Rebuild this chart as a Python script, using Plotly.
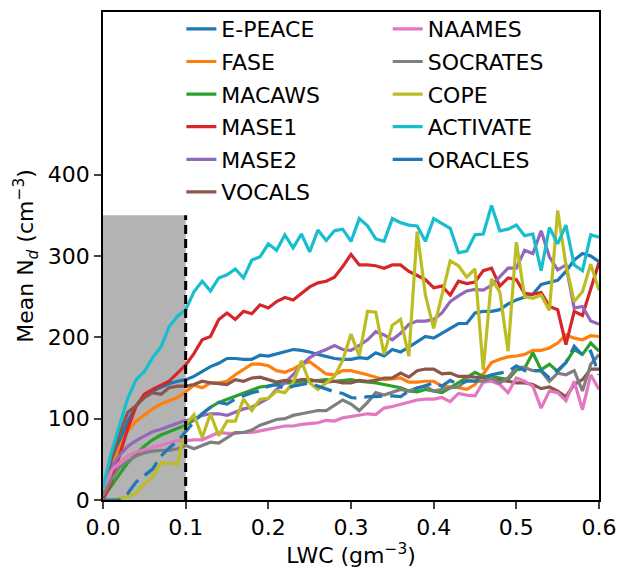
import plotly.graph_objects as go

LWC = [round(i * 0.01, 2) for i in range(61)]

E_PEACE = [0, 45, 72, 97, 116, 128, 134, 139, 143, 146, 148, 152, 158, 164, 168, 174, 174, 173, 173, 178,
           177, 180, 182, 185, 184, 182, 179, 176, 174, 173, 173, 175, 174, 181, 177, 185, 182, 188, 194, 201,
           199, 205, 211, 217, 217, 230, 232, 232, 234, 241, 246, 249, 253, 265, 268, 270, 281, 295, 303, 300, 293]
FASE = [5, 38, 65, 85, 97, 105, 112, 118, 122, 126, 133, 141, 138, 144, 144, 146, 154, 160, 167, 167,
        165, 159, 157, 161, 167, 170, 163, 155, 154, 159, 159, 157, 154, 151, 148, 149, 150, 145, 145, 146,
        146, 140, 139, 138, 136, 142, 155, 169, 173, 176, 177, 179, 184, 184, 187, 193, 203, 199, 197, 202, 201]
MACAWS = [3, 17, 32, 46, 56, 66, 74, 80, 84, 88, 92, 98, 106, 114, 120, 124, 128, 132, 136, 139,
          140, 142, 144, 144, 146, 146, 147, 148, 146, 147, 148, 146, 145, 144, 142, 140, 138, 134, 133, 136,
          134, 132, 138, 144, 150, 157, 152, 152, 150, 148, 160, 162, 181, 160, 167, 158, 169, 185, 179, 193, 183]
MASE1 = [0, 22, 55, 88, 115, 130, 136, 141, 146, 156, 166, 180, 197, 201, 222, 230, 222, 232, 229, 240,
         236, 244, 249, 246, 254, 262, 267, 269, 274, 287, 302, 289, 289, 288, 285, 289, 289, 281, 276, 271,
         261, 263, 252, 269, 266, 268, 282, 285, 263, 273, 271, 254, 253, 255, 238, 234, 191, 232, 227, 260, 292]
MASE2 = [10, 40, 55, 66, 73, 79, 84, 87, 91, 95, 98, 99, 104, 106, 106, 104, 108, 112, 114, 119,
         125, 136, 144, 154, 166, 175, 181, 185, 190, 185, 184, 190, 197, 207, 203, 197, 205, 216, 220, 220,
         222, 230, 244, 251, 257, 259, 258, 264, 274, 285, 285, 307, 303, 331, 299, 283, 289, 236, 238, 220, 216]
VOCALS = [5, 50, 82, 108, 116, 126, 132, 130, 138, 140, 140, 142, 146, 144, 143, 142, 148, 146, 150, 151,
          148, 145, 147, 146, 148, 148, 146, 145, 146, 144, 144, 147, 146, 147, 150, 150, 156, 151, 159, 161,
          161, 155, 156, 152, 152, 151, 150, 148, 147, 146, 144, 144, 142, 137, 139, 134, 127, 142, 148, 161, 161]
NAAMES = [12, 36, 46, 54, 59, 62, 64, 67, 71, 73, 73, 74, 74, 79, 83, 82, 82, 83, 83, 85,
          87, 89, 91, 91, 93, 94, 95, 98, 97, 101, 103, 105, 106, 105, 113, 115, 118, 120, 123, 124,
          124, 126, 121, 131, 129, 128, 145, 146, 142, 132, 150, 146, 140, 113, 134, 132, 122, 146, 111, 154, 136]
SOCRATES = [5, 25, 40, 48, 54, 58, 60, 61, 61, 63, 67, 63, 67, 71, 70, 77, 83, 83, 86, 92,
            96, 99, 100, 104, 106, 108, 110, 110, 116, 123, 118, 110, 120, 132, 129, 133, 136, 134, 138, 140,
            134, 136, 138, 139, 148, 146, 146, 150, 144, 150, 163, 163, 159, 159, 146, 156, 154, 159, 134, 167, 179]
COPE = [0, 0, 2, 4, 8, 20, 28, 46, 45, 44, 93, 105, 77, 106, 79, 97, 97, 124, 110, 124,
        125, 134, 132, 144, 171, 144, 136, 144, 152, 172, 204, 177, 232, 231, 179, 215, 222, 177, 330, 252,
        211, 252, 294, 288, 274, 284, 160, 272, 256, 183, 317, 250, 248, 252, 233, 356, 289, 244, 256, 290, 258]
ACTIVATE = [15, 58, 92, 125, 148, 158, 175, 188, 213, 226, 234, 256, 269, 257, 273, 277, 284, 273, 295, 299,
            315, 307, 326, 310, 327, 305, 332, 319, 331, 333, 318, 346, 337, 321, 318, 346, 341, 338, 337, 318,
            346, 340, 334, 304, 306, 326, 327, 362, 331, 333, 338, 325, 327, 282, 335, 315, 338, 289, 282, 326, 323]
ORACLES = [0, 0, 0, 8, 22, 30, 38, 54, 64, 72, 84, 96, 106, 114, 120, 118, 124, 128, 132, 134,
           140, 142, 136, 140, 142, 144, 140, 136, 133, 131, 126, 125, 127, 127, 128, 128, 127, 134, 137, 140,
           144, 140, 147, 142, 146, 146, 150, 154, 156, 158, 165, 159, 159, 159, 150, 160, 169, 189, 178, 183, 154]

SERIES = [
    ("E-PEACE", E_PEACE, "#1f77b4", "solid", "legend"),
    ("FASE", FASE, "#ff7f0e", "solid", "legend"),
    ("MACAWS", MACAWS, "#2ca02c", "solid", "legend"),
    ("MASE1", MASE1, "#d62728", "solid", "legend"),
    ("MASE2", MASE2, "#9467bd", "solid", "legend"),
    ("VOCALS", VOCALS, "#8c564b", "solid", "legend"),
    ("NAAMES", NAAMES, "#e377c2", "solid", "legend2"),
    ("SOCRATES", SOCRATES, "#7f7f7f", "solid", "legend2"),
    ("COPE", COPE, "#bcbd22", "solid", "legend2"),
    ("ACTIVATE", ACTIVATE, "#17becf", "solid", "legend2"),
    ("ORACLES", ORACLES, "#1f77b4", "18px,8px", "legend2"),
]

SHADE_LWC = 0.1
SHADE_TOP = 350

FONT = "DejaVu Sans"

fig = go.Figure()
for name, vals, color, dash, leg in SERIES:
    dashed = dash != "solid"
    fig.add_trace(go.Scatter(x=LWC, y=vals, mode="lines", name=name,
                             line=dict(color=color, width=3.2, dash=dash),
                             legend=leg, legendgroup=name, showlegend=not dashed))
    if dashed:
        # legend entry drawn solid, as in the reference
        fig.add_trace(go.Scatter(x=[None], y=[None], mode="lines", name=name,
                                 line=dict(color=color, width=3.2),
                                 legend=leg, legendgroup=name))

fig.add_shape(type="rect", xref="x", yref="y", x0=0, x1=SHADE_LWC, y0=0, y1=SHADE_TOP,
              fillcolor="#b3b3b3", line=dict(width=0), layer="below")
fig.add_shape(type="line", xref="x", yref="y", x0=SHADE_LWC, x1=SHADE_LWC, y0=0, y1=SHADE_TOP,
              line=dict(color="black", width=3, dash="9px,5px"), layer="above")

legend_common = dict(font=dict(family=FONT, size=22, color="black"), bgcolor="rgba(0,0,0,0)",
                     borderwidth=0, xanchor="left", yanchor="top", tracegroupgap=1,
                     orientation="v", itemwidth=30)

fig.update_layout(
    width=618, height=572,
    margin=dict(l=103, r=19, t=8, b=72),
    paper_bgcolor="white", plot_bgcolor="white",
    font=dict(family=FONT, size=22, color="black"),
    legend=dict(x=0.158, y=1.008, **legend_common),
    legend2=dict(x=0.574, y=1.008, **legend_common),
    xaxis=dict(range=[0, 0.6], tickvals=[0, 0.1, 0.2, 0.3, 0.4, 0.5, 0.6], tickformat=".1f",
               ticks="outside", ticklen=7, tickwidth=1.5, showline=True, linewidth=1.5,
               linecolor="black", mirror=True, showgrid=False, zeroline=False, automargin=False,
               title=dict(text="LWC (gm<sup>−3</sup>)", font=dict(size=22), standoff=8),
               tickfont=dict(size=22)),
    yaxis=dict(range=[0, 600], tickvals=[0, 100, 200, 300, 400],
               ticks="outside", ticklen=7, tickwidth=1.5, showline=True, linewidth=1.5,
               linecolor="black", mirror=True, showgrid=False, zeroline=False, automargin=False,
               title=dict(text="Mean N<sub><i>d</i></sub> (cm<sup>−3</sup>)", font=dict(size=22), standoff=8),
               tickfont=dict(size=22)),
)

fig.write_html("out.html")
